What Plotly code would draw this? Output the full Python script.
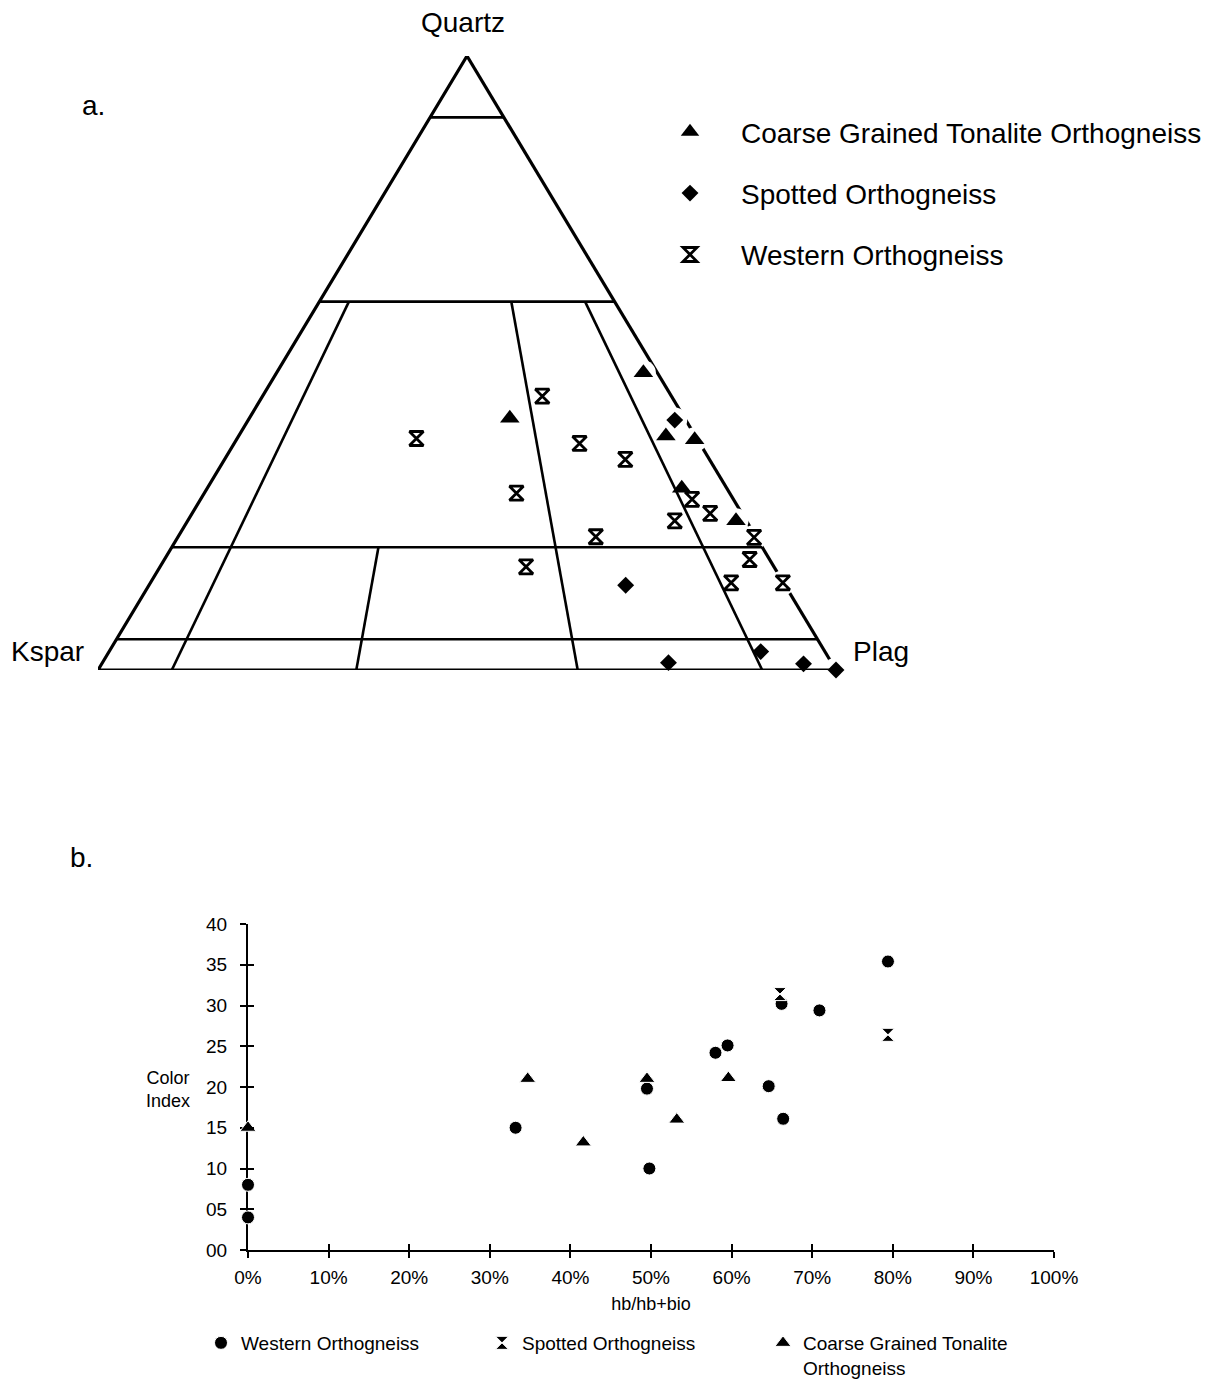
import plotly.graph_objects as go

# ---------------------------------------------------------------------------
# a.  Modal QAP compositions (vol. %): Quartz, K-feldspar, Plagioclase
# ---------------------------------------------------------------------------
tonalite_q = [48.4, 41.0, 38.1, 37.5, 29.6, 24.3]
tonalite_a = [1.9, 23.7, 4.0, 0.4, 6.1, 1.4]
tonalite_p = [49.7, 35.3, 57.9, 62.1, 64.3, 74.3]

spotted_q = [40.7, 13.8, 1.2, 3.0, 1.0, 0.0]
spotted_a = [1.5, 21.6, 22.1, 8.7, 3.9, 0.0]
spotted_p = [57.8, 64.6, 76.7, 88.3, 95.1, 100.0]

western_q = [37.7, 44.6, 36.9, 34.3, 28.8, 21.7, 16.8, 27.8, 25.5, 24.3, 21.6, 18.0, 14.2, 14.2]
western_a = [38.0, 17.5, 16.3, 11.4, 28.9, 21.7, 33.6, 5.6, 4.3, 9.7, 0.3, 2.7, 7.1, 0.1]
western_p = [24.3, 37.9, 46.8, 54.3, 42.3, 56.6, 49.6, 66.6, 70.2, 66.0, 78.1, 79.3, 78.7, 85.7]

# Streckeisen QAP field boundaries
quartz_levels = [90, 60, 20, 5]                 # horizontal Q boundaries
plag_ratios = [(10, 60), (35, 20), (65, 60), (90, 60)]  # (100*P/(A+P), upper Q limit)

# ---------------------------------------------------------------------------
# b.  Colour index against hornblende / (hornblende + biotite)
# ---------------------------------------------------------------------------
western_hb = [0, 0, 33.2, 49.8, 49.5, 58.0, 59.5, 64.6, 66.2, 66.4, 70.9, 79.4]
western_ci = [8.0, 4.0, 15.0, 10.0, 19.8, 24.2, 25.1, 20.1, 30.2, 16.1, 29.4, 35.4]

spotted_hb = [61.7, 66.0, 79.4]
spotted_ci = [40.2, 31.4, 26.4]

tonalite_hb = [0, 34.7, 41.6, 49.5, 53.2, 59.6]
tonalite_ci = [15.0, 21.0, 13.2, 21.0, 16.0, 21.1]

x_ticks = list(range(0, 101, 10))
x_labels = [f"{v}%" for v in x_ticks]
y_ticks = list(range(0, 41, 5))

FONT = "Liberation Sans, Arial, Helvetica, sans-serif"
W, H = 1228, 1379


def qap_xy(q, a, p):
    """Project Q-A-P percentages onto the triangle (A at x=0, P at x=100, Q apex at y=100)."""
    xs, ys = [], []
    for qi, ai, pi in zip(q, a, p):
        s = qi + ai + pi
        qn, pn = 100.0 * qi / s, 100.0 * pi / s
        xs.append(pn + qn / 2.0)
        ys.append(qn)
    return xs, ys


def edge_trace(q, a, p, width=3.2):
    x, y = qap_xy(q, a, p)
    return go.Scatter(x=x, y=y, mode="lines", line=dict(color="black", width=width),
                      showlegend=False, hoverinfo="skip", xaxis="x", yaxis="y")


fig = go.Figure()

# Q-P edge first, so the white knock-outs behind the samples break it
fig.add_trace(edge_trace([100, 0], [0, 0], [0, 100]))

all_q = tonalite_q + spotted_q + western_q
all_a = tonalite_a + spotted_a + western_a
all_p = tonalite_p + spotted_p + western_p
hx, hy = qap_xy(all_q, all_a, all_p)
fig.add_trace(go.Scatter(x=hx, y=hy, mode="markers", cliponaxis=False,
                         marker=dict(symbol="circle", size=25, color="white"),
                         showlegend=False, hoverinfo="skip", xaxis="x", yaxis="y"))

# Q-A edge and A-P base
fig.add_trace(edge_trace([100, 0, 0], [0, 100, 0], [0, 0, 100]))

# horizontal quartz boundaries
for lev in quartz_levels:
    fig.add_trace(edge_trace([lev, lev], [100 - lev, 0], [0, 100 - lev], width=2.6))

# plagioclase-ratio boundaries
for ratio, qtop in plag_ratios:
    r = ratio / 100.0
    fig.add_trace(edge_trace([qtop, 0], [(100 - qtop) * (1 - r), 100 * (1 - r)],
                             [(100 - qtop) * r, 100 * r], width=2.6))

# samples
for name, q, a, p, sym, size, lw in [
    ("Coarse Grained Tonalite Orthogneiss", tonalite_q, tonalite_a, tonalite_p, "triangle-up", 17, 0),
    ("Spotted Orthogneiss", spotted_q, spotted_a, spotted_p, "diamond", 13, 0),
    ("Western Orthogneiss", western_q, western_a, western_p, "hourglass-open", 14, 2.8),
]:
    x, y = qap_xy(q, a, p)
    fig.add_trace(go.Scatter(
        x=x, y=y, mode="markers", name=name, cliponaxis=False,
        marker=dict(symbol=sym, size=size, color="black", line=dict(color="black", width=lw)),
        legend="legend", legendgroup=name, xaxis="x", yaxis="y"))

# colour-index scatter
for name, xs, ys, sym, size in [
    ("Western Orthogneiss", western_hb, western_ci, "circle", 13),
    ("Spotted Orthogneiss", spotted_hb, spotted_ci, "hourglass", 13),
    ("Coarse Grained Tonalite<br>Orthogneiss", tonalite_hb, tonalite_ci, "triangle-up", 14),
]:
    fig.add_trace(go.Scatter(
        x=xs, y=ys, mode="markers", name=name, cliponaxis=False,
        marker=dict(symbol=sym, size=size, color="black", line=dict(color="white", width=1)),
        legend="legend2", xaxis="x2", yaxis="y2"))

# carrier for the overlaid axes that draw the inner halves of the tick marks
fig.add_trace(go.Scatter(x=[None], y=[None], mode="markers", showlegend=False,
                         hoverinfo="skip", xaxis="x3", yaxis="y3"))

tick_font = dict(family=FONT, size=19, color="black")

fig.update_layout(
    width=W, height=H,
    margin=dict(l=0, r=0, t=0, b=0, autoexpand=False),
    paper_bgcolor="white", plot_bgcolor="rgba(0,0,0,0)",
    font=dict(family=FONT, color="black"),
    xaxis=dict(domain=[98 / W, 836 / W], range=[0, 100], visible=False, fixedrange=True),
    yaxis=dict(domain=[1 - 670 / H, 1 - 56 / H], range=[0, 100], visible=False, fixedrange=True),
    xaxis2=dict(domain=[248 / W, 1054 / W], range=[0, 100], anchor="y2",
                tickmode="array", tickvals=x_ticks, ticktext=x_labels,
                ticks="outside", ticklen=6, tickwidth=2,
                tickcolor="black", showline=True, linecolor="black", linewidth=2.2,
                showgrid=False, zeroline=False, layer="below traces", tickfont=tick_font,
                ticklabelstandoff=3, fixedrange=True,
                title=dict(text="hb/hb+bio", font=dict(family=FONT, size=18), standoff=10)),
    yaxis2=dict(domain=[1 - 1250 / H, 1 - 924 / H], range=[0, 40], anchor="x2",
                tickmode="array", tickvals=y_ticks, tickformat="02d",
                ticks="outside", ticklen=6, tickwidth=2,
                tickcolor="black", showline=True, linecolor="black", linewidth=2,
                showgrid=False, zeroline=False, layer="below traces", tickfont=tick_font,
                ticklabelstandoff=9, fixedrange=True),
    xaxis3=dict(overlaying="x2", anchor="y2", range=[0, 100], tickmode="array",
                tickvals=x_ticks, ticks="inside", ticklen=6, tickwidth=2, tickcolor="black",
                showticklabels=False, showline=False, showgrid=False, zeroline=False,
                fixedrange=True),
    yaxis3=dict(overlaying="y2", anchor="x2", range=[0, 40], tickmode="array",
                tickvals=y_ticks, ticks="inside", ticklen=6, tickwidth=2, tickcolor="black",
                showticklabels=False, showline=False, showgrid=False, zeroline=False,
                fixedrange=True),
    legend=dict(x=639 / W, y=1 - 107 / H, xanchor="left", yanchor="top",
                font=dict(family=FONT, size=28), itemwidth=92, tracegroupgap=22,
                bgcolor="rgba(0,0,0,0)"),
    legend2=dict(x=201 / W, y=1 - 1324 / H, xanchor="left", yanchor="top",
                 orientation="h", font=dict(family=FONT, size=19), entrywidth=236,
                 valign="top", bgcolor="rgba(0,0,0,0)"),
    annotations=[
        dict(text=t, x=x / W, y=1 - y / H, xref="paper", yref="paper",
             xanchor="center", yanchor="middle", showarrow=False,
             font=dict(size=s), align="center")
        for t, x, y, s in [
            ("Quartz", 463, 22, 28),
            ("a.", 93, 106, 28),
            ("Kspar", 48, 651, 28),
            ("Plag", 881, 651, 28),
            ("b.", 81, 857, 28),
            ("Color<br>Index", 168, 1089, 18),
        ]
    ],
)

fig.write_html("out.html")
